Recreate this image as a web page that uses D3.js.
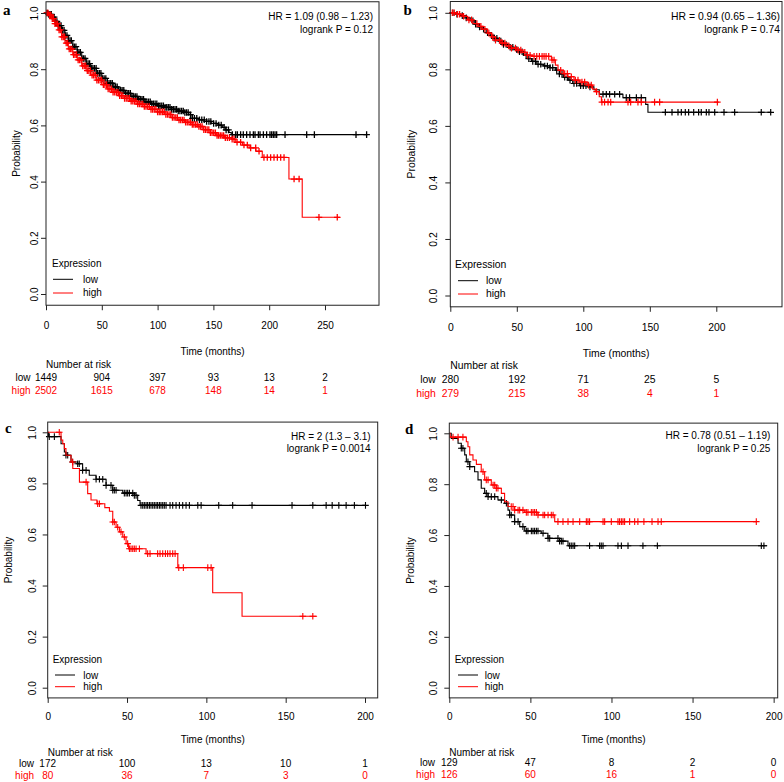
<!DOCTYPE html>
<html><head><meta charset="utf-8">
<script src="https://cdn.jsdelivr.net/npm/d3@7"></script>
<style>body{margin:0;background:#fff}svg{display:block}text{font-family:"Liberation Sans",Arial,sans-serif}</style>
</head><body><svg id="chart" width="784" height="782"></svg>
<script>
// ---------------- DATA ----------------
const groups = ["low", "high"];
const yTickValues = [0, 0.2, 0.4, 0.6, 0.8, 1.0];
const hrTextA = ["HR = 1.09 (0.98 – 1.23)", "logrank P = 0.12"];
const hrTextB = ["HR = 0.94 (0.65 – 1.36)", "logrank P = 0.74"];
const hrTextC = ["HR = 2 (1.3 – 3.1)", "logrank P = 0.0014"];
const hrTextD = ["HR = 0.78 (0.51 – 1.19)", "logrank P = 0.25"];
const xTicksA = [0, 50, 100, 150, 200, 250];
const xTicksB = [0, 50, 100, 150, 200];
const xTicksC = [0, 50, 100, 150, 200];
const xTicksD = [0, 50, 100, 150, 200];
const riskLowA = [1449, 904, 397, 93, 13, 2];
const riskHighA = [2502, 1615, 678, 148, 14, 1];
const riskLowB = [280, 192, 71, 25, 5];
const riskHighB = [279, 215, 38, 4, 1];
const riskLowC = [172, 100, 13, 10, 1];
const riskHighC = [80, 36, 7, 3, 0];
const riskLowD = [129, 47, 8, 2, 0];
const riskHighD = [126, 60, 16, 1, 0];

// KM steps [time (months), survival probability]
const aLow = [[0,1],[2,0.995],[5,0.985],[8,0.97],[11,0.955],[14,0.938],[17,0.92],[20,0.902],[24,0.88],[28,0.86],[32,0.838],[36,0.82],[40,0.803],[45,0.785],[50,0.767],[55,0.75],[60,0.737],[65,0.725],[70,0.714],[76,0.703],[82,0.693],[88,0.684],[94,0.677],[100,0.67],[106,0.664],[112,0.657],[118,0.651],[124,0.646],[128,0.638],[131,0.625],[137,0.62],[142,0.614],[148,0.607],[154,0.601],[158,0.593],[161,0.584],[164,0.575],[166,0.567],[288,0.567]];
const aHigh = [[0,1],[2,0.993],[5,0.98],[8,0.962],[11,0.94],[14,0.915],[17,0.893],[20,0.872],[24,0.852],[28,0.833],[32,0.812],[36,0.795],[40,0.779],[45,0.761],[50,0.745],[55,0.73],[60,0.718],[65,0.706],[70,0.696],[76,0.686],[82,0.676],[88,0.667],[94,0.657],[100,0.648],[106,0.639],[112,0.628],[118,0.619],[124,0.611],[130,0.603],[136,0.596],[141,0.585],[147,0.574],[153,0.564],[160,0.556],[166,0.551],[170,0.54],[176,0.53],[182,0.52],[188,0.508],[193.8,0.486],[217.7,0.409],[229.6,0.273],[263.4,0.273]];
const aLowCensor = [1.2,2.5,3.6,4.8,6.1,7.3,8.4,9.8,11.0,12.3,13.5,14.9,16.2,17.4,18.8,20.1,21.5,22.7,24.0,25.4,26.8,28.1,29.5,30.8,32.2,33.6,35.0,36.3,37.7,39.1,40.6,42.0,43.4,44.9,46.3,47.8,49.2,50.7,52.1,53.6,55.0,56.5,58.0,59.4,60.9,62.4,63.8,65.3,66.8,68.2,69.7,71.2,72.7,74.1,75.6,77.1,78.6,80.0,81.5,83.0,84.5,86.0,87.4,88.9,90.4,91.9,93.4,94.8,96.3,97.8,99.3,100.8,102.2,103.7,105.2,106.7,108.2,109.6,111.1,112.6,114.1,115.6,117.0,118.5,120.0,121.5,123.0,124.4,125.9,127.4,129.5,131.2,133.0,135.1,137.5,139.6,141.8,143.9,146.0,147.7,150.2,152.4,154.8,157.0,159.6,161.4,163.5,167,170,171.5,174.4,176.8,179.8,182.8,185.8,187.3,190.3,191.8,194.8,197.7,200.7,202.2,203.7,205.2,206.7,214.2,233.6,240.5,277.8,287.3];
const aHighCensor = [0.7,1.9,3.2,4.3,5.6,6.8,8.0,9.1,10.4,11.7,12.8,14.2,15.5,16.7,18.1,19.4,20.8,22.1,23.3,24.7,26.0,27.4,28.8,30.1,31.5,32.9,34.3,35.6,37.0,38.4,39.8,41.3,42.7,44.1,45.6,47.0,48.5,49.9,51.4,52.8,54.3,55.7,57.2,58.7,60.1,61.6,63.1,64.5,66.0,67.5,68.9,70.4,71.9,73.4,74.8,76.3,77.8,79.3,80.7,82.2,83.7,85.2,86.7,88.1,89.6,91.1,92.6,94.1,95.5,97.0,98.5,100.0,101.5,102.9,104.4,105.9,107.4,108.9,110.3,111.8,113.3,114.8,116.3,117.7,119.2,120.7,122.2,123.7,125.1,126.6,128.1,129.6,131.1,132.5,134.0,135.5,137.0,138.5,139.9,141.4,142.9,144.4,145.9,147.3,148.8,150.3,151.8,153.3,154.7,156.2,157.7,159.2,160.7,162.5,164.3,166.8,168.5,171.2,174.4,177.4,180.4,183.4,187.9,190.9,195.3,198.3,201.3,204.3,207.3,210.3,213.3,222.3,226.8,244.6,261];

const bLow = [[0,1],[4,0.995],[8,0.99],[12,0.982],[15,0.972],[18,0.96],[21,0.95],[24,0.942],[27,0.93],[30,0.92],[33,0.91],[36,0.9],[40,0.888],[44,0.878],[48,0.87],[52,0.862],[55,0.85],[58,0.838],[61,0.828],[65,0.818],[70,0.812],[75,0.806],[79,0.797],[82,0.784],[85,0.772],[89,0.762],[92,0.75],[97,0.742],[104,0.738],[108,0.728],[112,0.712],[129.8,0.7],[146.9,0.676],[148.6,0.648],[241.4,0.648]];
const bHigh = [[0,1],[5,0.995],[9,0.988],[13,0.975],[17,0.962],[21,0.952],[24,0.942],[28,0.928],[31,0.915],[34,0.903],[38,0.893],[42,0.883],[46,0.875],[50,0.868],[54,0.86],[58,0.85],[62,0.846],[76,0.833],[79,0.815],[81,0.797],[85,0.785],[88.5,0.774],[93,0.762],[97,0.755],[103,0.744],[107,0.73],[109,0.721],[112,0.703],[113.6,0.684],[201.8,0.684]];
const bLowCensor = [2,5,9,12,17,19,22,25,28,31,33,35,38,40,42,45,47,50,52,54,57,59,62,64,66,68,71,73,75,77,80,82,84,86,88,90,93,95,98,100,102,105,114.8,117.3,119.8,123.6,127.3,132.3,134.8,139.9,143.6,161.7,166.7,171.2,173.7,176.7,179.2,183,186.7,188.7,192.5,194.5,198.8,205.8,213.8,233.8,240.9];
const bHighCensor = [1.5,3,5.5,7,10,14,16,20,23,26,29,32,34,37,39,41,44,46,49,51,53,56,58,60,63,65,67,69,70.5,72,74,76.5,78,83,86,88,91,94,96,99,101,104,106,110,114,116,118.6,120.6,133.6,135.6,141.1,143.6,153.6,157.4,200.8];

const cLow = [[0,1],[0.5,0.983],[8.4,0.955],[10.5,0.923],[11.5,0.91],[14.7,0.884],[18.9,0.877],[22,0.851],[26.2,0.832],[30.5,0.816],[36.8,0.792],[41,0.773],[47.3,0.762],[54.6,0.753],[56.7,0.733],[58.2,0.714],[200.7,0.714]];
const cHigh = [[0,1],[8.4,0.97],[9.5,0.955],[10.5,0.936],[11.5,0.91],[14.7,0.884],[15.8,0.858],[20,0.805],[25.2,0.76],[27.3,0.735],[31,0.72],[36,0.705],[38.9,0.691],[41,0.649],[43.1,0.628],[45.2,0.61],[47.3,0.59],[49.4,0.564],[51,0.544],[62,0.525],[82,0.47],[104,0.372],[122.5,0.28],[169.8,0.28]];
const cLowCensor = [1.0,4.2,11.5,12.6,15.7,18.9,19.9,22.0,24.2,30.5,32.6,34.7,36.8,39.9,41.0,42.0,43.1,48.3,49.4,50.4,51.5,53.6,54.6,55.7,58.8,59.9,60.9,62.0,63.0,64.1,65.1,66.2,67.2,68.3,69.3,70.4,71.4,72.5,73.5,74.6,77.1,78.8,80.9,83.0,85.1,87.2,89.3,94.6,96.7,107.8,116.6,128.8,154.0,167.1,175.5,179.3,183.5,188.1,193.3,200.3];
const cHighCensor = [7.3,15.7,24.2,31.5,32.6,41.0,42.0,44.1,46.2,48.3,50.4,51.5,52.5,53.6,54.6,55.7,57.8,63.0,64.5,69.3,70.8,72.5,74.2,75.6,77.1,78.8,80.3,82.6,85.5,100.9,103.0,160.8,167.1];

const dLow = [[0,1],[1.2,0.98],[5.4,0.961],[7.4,0.941],[9.5,0.915],[10.5,0.888],[12.6,0.869],[15.6,0.849],[17.7,0.817],[19.7,0.784],[21.8,0.764],[23.9,0.751],[30,0.738],[34.1,0.725],[36.2,0.698],[37.2,0.679],[40.3,0.653],[43.4,0.633],[46.5,0.616],[56.7,0.607],[60.8,0.587],[68,0.576],[73.2,0.558],[195.9,0.558]];
const dHigh = [[0,1],[0.5,0.985],[10.5,0.967],[11.5,0.947],[12.6,0.915],[14.6,0.895],[16.7,0.878],[19.7,0.849],[21.8,0.817],[25.9,0.797],[29,0.784],[32.1,0.764],[34.1,0.731],[36.2,0.712],[40.3,0.698],[46.5,0.689],[54.7,0.679],[65,0.653],[189.5,0.653]];
const dLowCensor = [7.4,8.4,11.5,12.6,22.8,23.9,25.9,28.0,32.1,35.2,37.2,38.2,40.3,42.4,45.4,47.5,48.5,50.6,51.6,52.6,53.7,54.7,57.8,60.9,61.9,67.0,68.0,69.1,70.1,74.2,75.2,76.3,77.3,86.5,92.7,93.7,94.8,104.0,106.1,110.2,119.4,128.3,192.4,194.0];
const dHighCensor = [2.3,5.4,8.4,20.8,22.8,23.9,27.0,28.0,29.0,30.0,38.2,39.3,40.3,42.4,43.4,45.4,47.5,48.5,50.6,51.6,52.6,53.7,54.7,57.8,58.8,60.9,62.9,64.0,67.0,70.1,73.2,76.3,80.4,84.5,85.5,86.5,94.8,95.8,99.9,104.0,105.0,106.1,107.1,108.1,111.2,114.3,116.3,120.0,125.0,128.7,130.7,189.3];

// ---------------- DRAWING ----------------
const svg = d3.select("#chart");
const colLow = "#000000", colHigh = "#ff0000";

function stepAt(steps, t) {
  const i = d3.bisector(d => d[0]).right(steps, t) - 1;
  return steps[Math.max(0, i)][1];
}

function panel(P) {
  const fs = P.fs;
  const x = d3.scaleLinear().domain([0, P.tMax]).range([P.left, P.right]);
  const y = d3.scaleLinear().domain([0, 1]).range([P.yZero, P.yOne]);
  const top = y(1.04), bottom = y(-0.04);
  const g = svg.append("g");

  const line = d3.line().x(d => x(d[0])).y(d => y(d[1])).curve(d3.curveStepAfter);
  P.series.forEach(s => {
    g.append("path").attr("d", line(s.steps)).attr("fill", "none")
      .attr("stroke", s.color).attr("stroke-width", 1.1);
    const cg = g.append("g").attr("stroke", s.color).attr("stroke-width", P.markW).attr("fill", "none");
    cg.selectAll("path").data(s.censor).join("path")
      .attr("d", t => {
        const cx = x(t), cy = y(stepAt(s.steps, t));
        return `M${cx - 3.3},${cy}H${cx + 3.3}M${cx},${cy - 3.3}V${cy + 3.3}`;
      });
  });

  g.append("rect").attr("x", P.left).attr("y", top)
    .attr("width", P.right - P.left).attr("height", bottom - top)
    .attr("fill", "none").attr("stroke", "#222").attr("stroke-width", 1);

  // x axis
  const xa = g.append("g").attr("transform", `translate(0,${bottom})`)
    .call(d3.axisBottom(x).tickValues(P.xTicks).tickSize(5).tickSizeOuter(0).tickFormat(d3.format("d")));
  xa.select(".domain").remove();
  xa.selectAll(".tick line").attr("stroke", "#222");
  xa.selectAll(".tick text").attr("dy", null).attr("y", P.xLabBase - bottom)
    .style("font-family", '"Liberation Sans",Arial,sans-serif').style("font-size", fs + "px").attr("fill", "#000");

  // y axis
  const ya = g.append("g").attr("transform", `translate(${P.left},0)`)
    .call(d3.axisLeft(y).tickValues(yTickValues).tickSize(5).tickSizeOuter(0).tickFormat(d3.format(".1f")));
  ya.select(".domain").remove();
  ya.selectAll(".tick line").attr("stroke", "#222");
  ya.selectAll(".tick text").attr("x", null).attr("dy", null)
    .attr("text-anchor", "middle")
    .attr("transform", `translate(${P.yLabBase - P.left},0) rotate(-90)`)
    .style("font-family", '"Liberation Sans",Arial,sans-serif').style("font-size", fs + "px").attr("fill", "#000");

  g.append("text").attr("transform", `translate(${P.probX},${(top + bottom) / 2}) rotate(-90)`)
    .attr("text-anchor", "middle").style("font-size", fs + "px").text("Probability");
  g.append("text").attr("x", (P.left + P.right) / 2).attr("y", P.timeBase)
    .attr("text-anchor", "middle").style("font-size", fs + "px").text("Time (months)");

  // HR text
  P.hr.forEach((t, i) => g.append("text").attr("x", P.hrX).attr("y", P.hrBase[i])
    .attr("text-anchor", "end").style("font-size", fs + "px").text(t));

  // legend
  g.append("text").attr("x", P.legX).attr("y", P.legBase).style("font-size", fs + "px").text("Expression");
  groups.forEach((name, i) => {
    const col = i === 0 ? colLow : colHigh;
    g.append("line").attr("x1", P.legLineX).attr("x2", P.legLineX + 20)
      .attr("y1", P.legLineY[i]).attr("y2", P.legLineY[i]).attr("stroke", col).attr("stroke-width", 1);
    g.append("text").attr("x", P.legTextX).attr("y", P.legTextBase[i])
      .style("font-size", fs + "px").text(name);
  });

  // panel letter
  g.append("text").attr("x", P.letX).attr("y", P.letBase)
    .style("font-family", '"Liberation Serif","Times New Roman",serif')
    .style("font-weight", "bold").style("font-size", "15px").text(P.letter);

  // number at risk
  g.append("text").attr("x", P.left).attr("y", P.narBase).style("font-size", fs + "px").text("Number at risk");
  [P.riskLow, P.riskHigh].forEach((vals, i) => {
    const col = i === 0 ? colLow : colHigh;
    g.append("text").attr("x", P.narLabX).attr("y", P.rowBase[i]).attr("text-anchor", "end")
      .attr("fill", col).style("font-size", fs + "px").text(groups[i]);
    vals.forEach((v, j) => g.append("text").attr("x", x(P.xTicks[j])).attr("y", P.rowBase[i])
      .attr("text-anchor", "middle").attr("fill", col).style("font-size", fs + "px").text(v));
  });
}

panel({letter: "a", fs: 10, markW: 1.3, left: 46, right: 379, tMax: 298.4, yOne: 13, yZero: 294,
  xTicks: xTicksA, xLabBase: 329, timeBase: 355, narBase: 367.7, rowBase: [380.7, 394], narLabX: 30.5,
  hr: hrTextA, hrX: 373, hrBase: [20, 33.3], yLabBase: 38, probX: 20, letX: 3, letBase: 15,
  legX: 52, legBase: 266.5, legLineX: 53, legLineY: [279.3, 293], legTextX: 83, legTextBase: [283, 296],
  riskLow: riskLowA, riskHigh: riskHighA,
  series: [{steps: aLow, censor: aLowCensor, color: colLow}, {steps: aHigh, censor: aHighCensor, color: colHigh}]});

panel({letter: "b", fs: 10.4, markW: 1.2, left: 450.3, right: 782, tMax: 249.4, yOne: 12.8, yZero: 295.5,
  xTicks: xTicksB, xLabBase: 331.5, timeBase: 356.7, narBase: 369.3, rowBase: [383.3, 396.7], narLabX: 435.8,
  hr: hrTextB, hrX: 780, hrBase: [20, 32.7], yLabBase: 437, probX: 415, letX: 403.5, letBase: 15,
  legX: 455, legBase: 267.7, legLineX: 458, legLineY: [280.7, 294], legTextX: 486, legTextBase: [284, 297],
  riskLow: riskLowB, riskHigh: riskHighB,
  series: [{steps: bLow, censor: bLowCensor, color: colLow}, {steps: bHigh, censor: bHighCensor, color: colHigh}]});

panel({letter: "c", fs: 10, markW: 1.1, left: 47.7, right: 377.7, tMax: 208, yOne: 432.3, yZero: 687.7,
  xTicks: xTicksC, xLabBase: 720, timeBase: 743.3, narBase: 755.7, rowBase: [766.7, 778.7], narLabX: 34,
  hr: hrTextC, hrX: 370.7, hrBase: [440, 452], yLabBase: 35.5, probX: 12, letX: 5, letBase: 433.3,
  legX: 52.7, legBase: 663.3, legLineX: 55, legLineY: [675, 686.7], legTextX: 83.3, legTextBase: [678.5, 689.5],
  riskLow: riskLowC, riskHigh: riskHighC,
  series: [{steps: cLow, censor: cLowCensor, color: colLow}, {steps: cHigh, censor: cHighCensor, color: colHigh}]});

panel({letter: "d", fs: 10, markW: 1.1, left: 449.3, right: 777.7, tMax: 202.5, yOne: 433.3, yZero: 687.7,
  xTicks: xTicksD, xLabBase: 720, timeBase: 743.3, narBase: 755.5, rowBase: [766, 778], narLabX: 435,
  hr: hrTextD, hrX: 770.3, hrBase: [438.5, 451.7], yLabBase: 437, probX: 414, letX: 405, letBase: 434,
  legX: 454.7, legBase: 663.3, legLineX: 458, legLineY: [675, 686.7], legTextX: 484.7, legTextBase: [678.5, 689.5],
  riskLow: riskLowD, riskHigh: riskHighD,
  series: [{steps: dLow, censor: dLowCensor, color: colLow}, {steps: dHigh, censor: dHighCensor, color: colHigh}]});
</script>
</body></html>
